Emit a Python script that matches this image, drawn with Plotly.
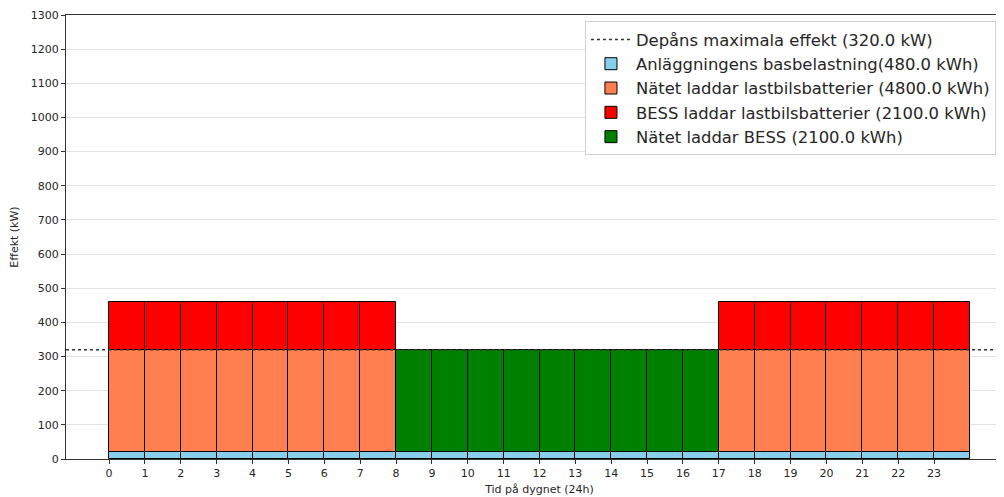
import plotly.graph_objects as go

# hour of day (bars start at the hour, width 1 h)
hours = list(range(24))

# kW per hour
base_load = [20] * 24
grid_to_trucks = [300] * 8 + [0] * 9 + [300] * 7
bess_to_trucks = [140] * 8 + [0] * 9 + [140] * 7
grid_to_bess = [0] * 8 + [300] * 9 + [0] * 7
depot_max = 320

y_ticks = list(range(0, 1301, 100))

FONT = "DejaVu Sans"


def bar(name, values, color, base_vals):
    xs, ys, bs = [], [], []
    for h, v, b in zip(hours, values, base_vals):
        if v > 0:
            xs.append(h)
            ys.append(v)
            bs.append(b)
    return go.Bar(
        x=xs, y=ys, base=bs, name=name, width=1, offset=0,
        marker=dict(color=color, line=dict(color="black", width=1)),
    )


fig = go.Figure()

# legend entry for the dotted max line (line itself drawn as hline)
fig.add_trace(go.Scatter(
    x=[None], y=[None], mode="lines", name=f"Depåns maximala effekt ({depot_max:.1f} kW)",
    line=dict(color="#333333", dash="dot", width=1.5),
))

zeros = [0] * 24
lvl1 = base_load
lvl2 = [a + b for a, b in zip(base_load, grid_to_trucks)]

fig.add_trace(bar(f"Anläggningens basbelastning({480:.1f} kWh)", base_load, "#87CEEB", zeros))
fig.add_trace(bar(f"Nätet laddar lastbilsbatterier ({4800:.1f} kWh)", grid_to_trucks, "#FF7F50", lvl1))
fig.add_trace(bar(f"BESS laddar lastbilsbatterier ({2100:.1f} kWh)", bess_to_trucks, "#FF0000", lvl2))
fig.add_trace(bar(f"Nätet laddar BESS ({2100:.1f} kWh)", grid_to_bess, "#008000", lvl1))

fig.add_hline(y=depot_max, line=dict(color="#333333", dash="dot", width=1.5), layer="above")

# page body adds an 8px offset, so margins are reduced by 8 and the
# figure runs a little past the right edge (like the cropped original)
fig.update_layout(
    width=1005, height=497,
    margin=dict(l=58, r=0, t=7, b=46),
    plot_bgcolor="white", paper_bgcolor="white",
    font=dict(family=FONT, size=12, color="#262626"),
    bargap=0,
    showlegend=True,
    legend=dict(
        x=0.548, y=0.986, xanchor="left", yanchor="top",
        bgcolor="white", bordercolor="#d0d0d0", borderwidth=1,
        font=dict(family=FONT, size=16.4, color="#262626"),
        tracegroupgap=0, itemwidth=40,
    ),
)

fig.update_xaxes(
    range=[-1.2, 25.2],
    tickmode="array", tickvals=hours, ticktext=[str(h) for h in hours],
    ticks="outside", ticklen=4, tickcolor="#333333",
    showline=True, linecolor="#333333", linewidth=1, mirror=True,
    showgrid=False, zeroline=False,
    tickfont=dict(size=11),
    title=dict(text="Tid på dygnet (24h)", font=dict(size=11), standoff=6),
)
fig.update_yaxes(
    range=[0, 1300],
    tickmode="array", tickvals=y_ticks,
    ticks="outside", ticklen=4, tickcolor="#333333",
    showline=True, linecolor="#333333", linewidth=1,
    showgrid=True, gridcolor="#e3e3e3", gridwidth=1, zeroline=False,
    tickfont=dict(size=11),
    title=dict(text="Effekt (kW)", font=dict(size=11), standoff=12),
)

fig.write_html("out.html")
